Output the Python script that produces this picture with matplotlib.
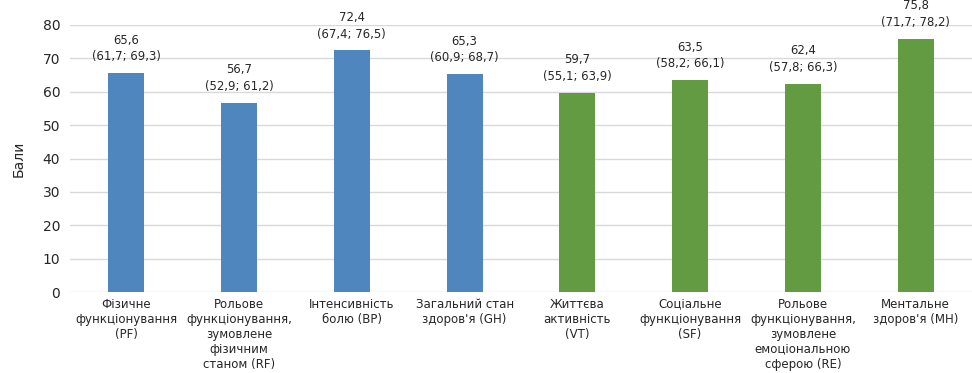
import matplotlib
matplotlib.use("Agg")
import matplotlib.pyplot as plt

categories = [
    "Фізичне\nфункціонування\n(PF)",
    "Рольове\nфункціонування,\nзумовлене\nфізичним\nстаном (RF)",
    "Інтенсивність\nболю (BP)",
    "Загальний стан\nздоров'я (GH)",
    "Життєва\nактивність\n(VT)",
    "Соціальне\nфункціонування\n(SF)",
    "Рольове\nфункціонування,\nзумовлене\nемоціональною\nсферою (RE)",
    "Ментальне\nздоров'я (MH)",
]
values = [65.6, 56.7, 72.4, 65.3, 59.7, 63.5, 62.4, 75.8]
ci_low = [61.7, 52.9, 67.4, 60.9, 55.1, 58.2, 57.8, 71.7]
ci_high = [69.3, 61.2, 76.5, 68.7, 63.9, 66.1, 66.3, 78.2]
groups = ["phys", "phys", "phys", "phys", "ment", "ment", "ment", "ment"]
yticks = [0, 10, 20, 30, 40, 50, 60, 70, 80]

colors = {"phys": "#4F86BD", "ment": "#629B42"}

plt.rcParams["font.family"] = ["DejaVu Sans"]

fig = plt.figure(figsize=(9.72, 3.73), dpi=100)
ax = fig.add_axes([0.072, 0.217, 0.928, 0.716])

x = list(range(len(categories)))
ax.bar(x, values, width=0.32, color=[colors[g] for g in groups], zorder=3)

def fmt(v):
    return f"{v:.1f}".replace(".", ",")

for xi, v, lo, hi in zip(x, values, ci_low, ci_high):
    ax.annotate(f"{fmt(v)}\n({fmt(lo)}; {fmt(hi)})", (xi, v), xytext=(0, 7),
                textcoords="offset points", ha="center", va="bottom",
                fontsize=8.4, color="#262626", linespacing=1.38)

ax.set_xlim(-0.5, len(categories) - 0.5)
ax.set_ylim(0, 80)
ax.set_yticks(yticks)
ax.set_xticks(x)
ax.set_xticklabels(categories, fontsize=8.5, color="#262626", linespacing=1.22)
ax.tick_params(axis="y", labelsize=10, colors="#262626", length=0, pad=7)
ax.tick_params(axis="x", length=0, pad=4)
ax.grid(axis="y", color="#D9D9D9", linewidth=1, zorder=0)
for s in ax.spines.values():
    s.set_visible(False)
ax.set_ylabel("Бали", fontsize=10, color="#262626", labelpad=12)

fig.savefig("out.png", dpi=100)
